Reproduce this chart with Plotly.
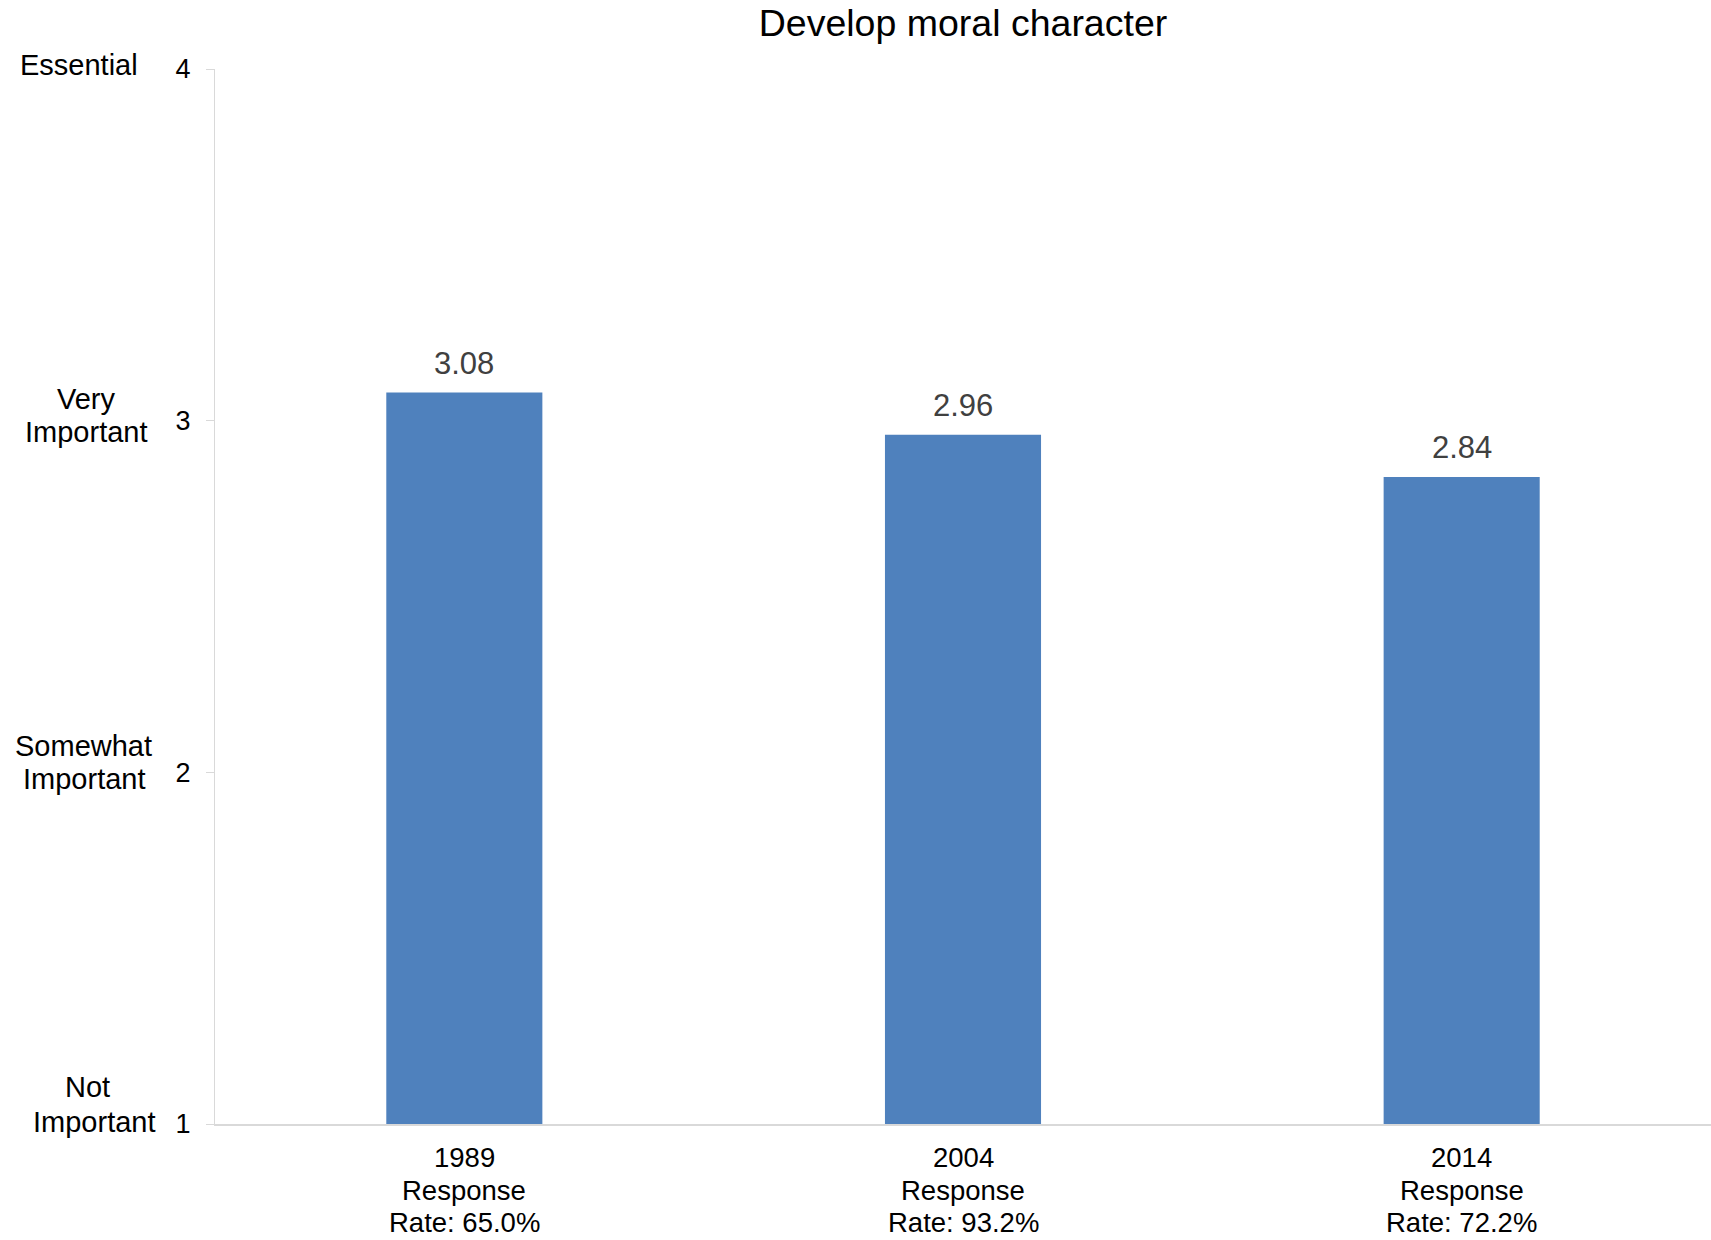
import plotly.graph_objects as go

# ---- data ----
years = ["1989", "2004", "2014"]
response_rates = ["65.0%", "93.2%", "72.2%"]
values = [3.08, 2.96, 2.84]
value_labels = ["3.08", "2.96", "2.84"]
y_ticks = [1, 2, 3, 4]
y_tick_text = ["1", "2", "3", "4"]
scale_labels = [["Not", "Important"], ["Somewhat", "Important"], ["Very", "Important"], ["Essential"]]
title = "Develop moral character"

# ---- style ----
FONT = "Liberation Sans, Arial, sans-serif"
BAR_COLOR = "#4f81bd"
AXIS_COLOR = "#d9d9d9"
# per-line placement of the scale labels (pixel offsets from the tick / axis)
scale_line_style = [
    [(-128, 37), (-121, 2)],
    [(-132, 26), (-131, -7)],
    [(-129, 22), (-129, -11)],
    [(-136, 4)],
]
cat_line_shift = [-33, -66, -98]

fig = go.Figure()
fig.add_trace(go.Bar(
    x=years, y=values,
    marker=dict(color=BAR_COLOR, line=dict(width=0)),
    hoverinfo="skip",
))

# value labels above bars (category positions by index)
for i, (yv, t) in enumerate(zip(values, value_labels)):
    fig.add_annotation(
        x=i, y=yv, xref="x", yref="y", text=t, showarrow=False,
        xanchor="center", yanchor="middle", yshift=29,
        font=dict(family=FONT, size=31, color="#404040"),
    )

# category labels below axis
for i, (yr, rr) in enumerate(zip(years, response_rates)):
    lines = [yr, "Response", "Rate: " + rr]
    for ln, sh in zip(lines, cat_line_shift):
        fig.add_annotation(
            x=i, y=0, xref="x", yref="paper", text=ln, showarrow=False,
            xanchor="center", yanchor="middle", yshift=sh,
            font=dict(family=FONT, size=27.5, color="#000000"),
        )

# scale labels left of axis
for val, lines, styles in zip(y_ticks, scale_labels, scale_line_style):
    for ln, (xs, ys) in zip(lines, styles):
        fig.add_annotation(
            x=0, xref="paper", y=val, yref="y", text=ln, showarrow=False,
            xanchor="center", yanchor="middle", xshift=xs, yshift=ys,
            font=dict(family=FONT, size=29, color="#000000"),
        )

fig.update_layout(
    width=1711, height=1240,
    margin=dict(l=215, r=0, t=69, b=116),
    paper_bgcolor="white", plot_bgcolor="white",
    showlegend=False,
    bargap=0.687,
    title=dict(text=title, x=0.5, xref="paper", y=1 - 23 / 1240, yref="container",
               xanchor="center", yanchor="middle",
               font=dict(family=FONT, size=37.5, color="#000000")),
    xaxis=dict(
        type="category", range=[-0.5, len(years) - 0.5],
        showline=True, linecolor=AXIS_COLOR, linewidth=2,
        ticks="", showgrid=False, zeroline=False,
        showticklabels=False, automargin=False,
    ),
    yaxis=dict(
        range=[1, 4], tickvals=y_ticks, ticktext=y_tick_text,
        showline=True, linecolor=AXIS_COLOR, linewidth=1,
        ticks="outside", ticklen=8, tickcolor=AXIS_COLOR,
        showgrid=False, zeroline=False, automargin=False,
        tickfont=dict(family=FONT, size=27, color="#000000"),
        ticklabelstandoff=10,
    ),
)

fig.write_html("out.html", config={"displayModeBar": False},
               post_script="document.body.style.margin='0px';")
